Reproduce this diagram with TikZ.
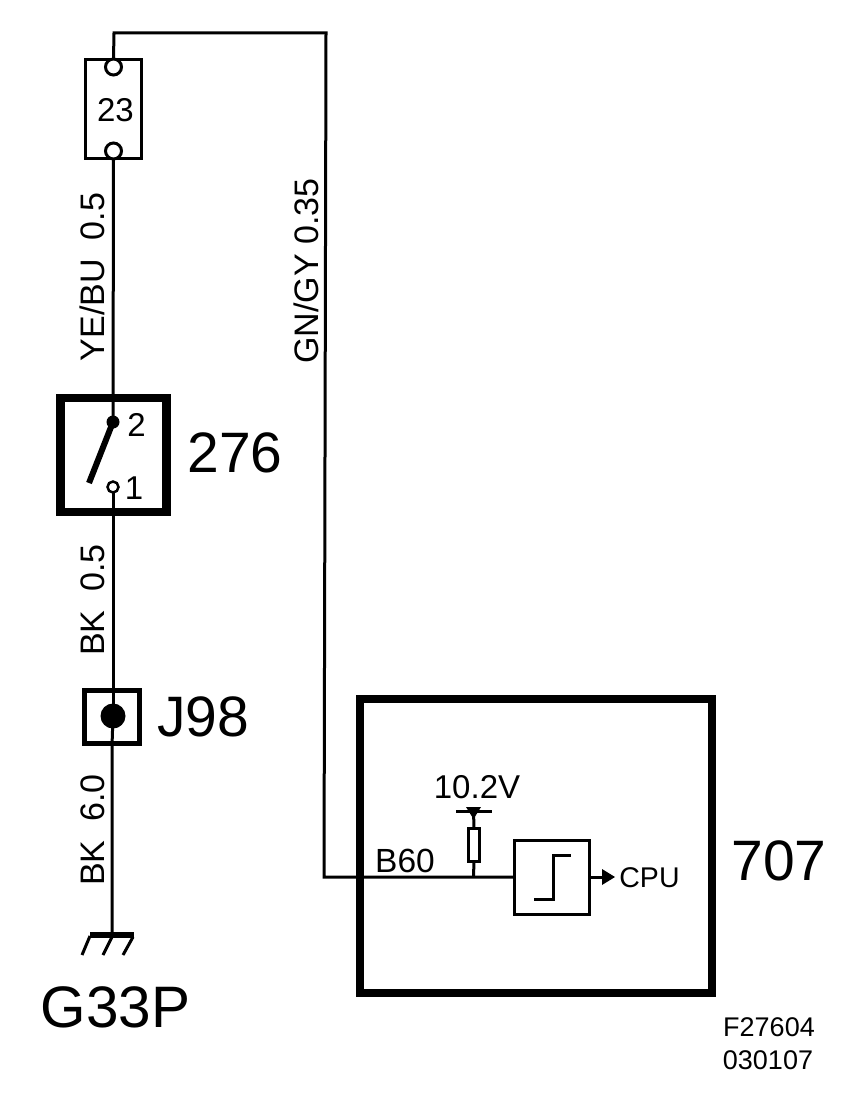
\documentclass[tikz,border=0pt]{standalone}
\usepackage{fontspec}
\setmainfont{Liberation Sans}
\usetikzlibrary{arrows.meta}
\tikzset{
  wire/.style={line width=3pt,line cap=butt,line join=miter},
  box/.style={draw,fill=white,inner sep=0pt,outer sep=0pt,anchor=north west},
  pin/.style={circle,draw,fill=white,inner sep=0pt,outer sep=0pt},
  dotpin/.style={circle,fill=black,inner sep=0pt,outer sep=0pt},
  big/.style={inner sep=0pt,font=\fontsize{57}{57}\selectfont},
  mid/.style={inner sep=0pt,font=\fontsize{33}{33}\selectfont},
  wlabel/.style={inner sep=0pt,rotate=90,font=\fontsize{34}{34}\selectfont},
  small/.style={inner sep=0pt,font=\fontsize{27}{27}\selectfont}
}
\begin{document}
\begin{tikzpicture}[x=1pt,y=-1pt]
\useasboundingbox (0,0) rectangle (864,1094);
% fuse
\node[box,line width=3pt,minimum width=56pt,minimum height=99pt] (fuse) at (85.5,60) {};
\node[pin,line width=3pt,minimum size=16pt] (fa) at (113.5,67) {};
\node[pin,line width=3pt,minimum size=16pt] (fb) at (113.5,151) {};
\node[mid] (t23) at (115.5,110) {23};
% switch
\node[box,line width=8.5pt,minimum width=106pt,minimum height=114pt] (sw) at (60.5,398) {};
\node[dotpin,minimum size=13pt] (s2) at (113,422) {};
\node[pin,line width=2.5pt,minimum size=11pt] (s1) at (113,487) {};
\coordinate (lev) at (89,483);
\node[mid] (n2) at (136.5,424.5) {2};
\node[mid] (n1) at (134,488.5) {1};
\node[big] (l276) at (235,453) {276};
% junction
\node[box,line width=5pt,minimum width=55pt,minimum height=53pt] (j) at (84.5,690.5) {};
\node[dotpin,minimum size=25pt] (jd) at (113,716) {};
\node[big] (lj) at (203,717) {J98};
% ground
\coordinate (gnd) at (112,935);
\coordinate (gl) at (90,935);
\coordinate (gr) at (134,935);
\node[big,font=\fontsize{58.5}{58.5}\selectfont] (lg) at (115.5,1007) {G33P};
% ECU
\node[box,line width=8pt,minimum width=352pt,minimum height=294pt] (ecu) at (360,699) {};
\node[box,line width=3pt,minimum width=75pt,minimum height=74pt] (cmp) at (514.5,840) {};
\node[box,line width=3pt,minimum width=11pt,minimum height=33pt] (res) at (468.5,828) {};
\coordinate (sup) at (473.5,811);
\coordinate (b60) at (473.5,877);
% corner points
\coordinate (c1) at (114,33);
\coordinate (c2) at (326,33);
\coordinate (c3) at (324,877);
% wires
\draw[wire] (fa.north) -- (c1) -- (c2) -- (c3) -- (cmp.west);
\draw[wire] (fb.south) -- (s2.center);
\draw[wire] (s1.south) -- (jd.center);
\draw[wire] (jd.center) -- (112,746) -- (gnd);
\draw[line width=6pt] (gl) -- (gr);
\draw[line width=3pt] (90,936) -- (82,955);
\draw[line width=3pt] (112,937) -- (103,955);
\draw[line width=3pt] (133,937) -- (123,955);
\draw[line width=6pt] (s2.center) -- (lev);
\draw[wire] (b60) -- (res.south);
\draw[wire] (res.north) -- (sup);
\draw[wire] (456,811) -- (492,811);
\fill (466,807) -- (481,807) -- (473.5,819) -- cycle;
\draw[wire] (cmp.east) -- (604,877);
\fill (602,869) -- (615,877) -- (602,885) -- cycle;
\draw[line width=3pt] (534,899) -- (553,899) -- (553,855) -- (571,855);
% labels
\node[wlabel] (w1) at (92.5,277) {YE/BU\ \ 0.5};
\node[wlabel] (w2) at (306,271) {GN/GY 0.35};
\node[wlabel] (w3) at (92.5,600) {BK\ \ 0.5};
\node[wlabel] (w4) at (92.5,830) {BK\ \ 6.0};
\node[mid] (v) at (477,787) {10.2V};
\node[mid,font=\fontsize{33.5}{33.5}\selectfont] (b) at (405,861) {B60};
\node[inner sep=0pt,font=\fontsize{28.5}{28.5}\selectfont] (cpu) at (649.5,877.5) {CPU};
\node[big] (l707) at (779,861) {707};
\node[small] (f1) at (769,1027) {F27604};
\node[small] (f2) at (768,1060) {030107};
\end{tikzpicture}
\end{document}
